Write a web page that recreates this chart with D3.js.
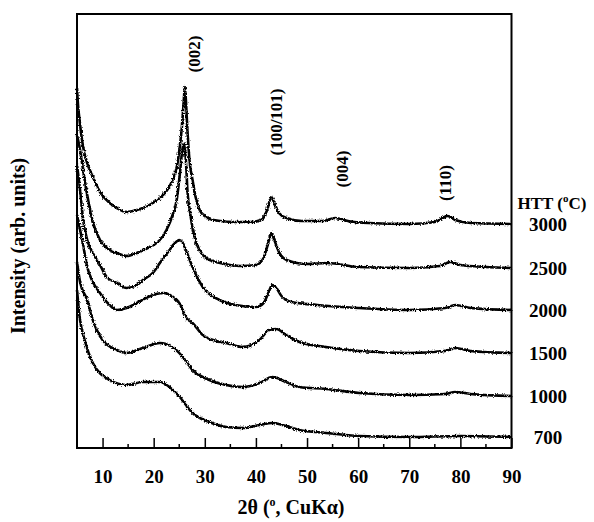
<!DOCTYPE html>
<html>
<head>
<meta charset="utf-8">
<script src="https://cdn.jsdelivr.net/npm/d3@7"></script>
<style>
  body { margin: 0; background: #fff; }
  text { font-family: "Liberation Serif", "Times New Roman", serif; font-weight: bold; fill: #000; }
</style>
</head>
<body>
<div id="chart"></div>
<script>
// 2-theta positions (deg) and intensities (arb. units)
const HTT = ["3000", "2500", "2000", "1500", "1000", "700"];

const XRD_3000 = [[5.0,360],[5.2,343],[5.5,328],[6.2,301],[7.0,285],[8.1,271],[9.5,256],[11.4,245],[12.8,240],[14.7,236],[16.7,238],[17.9,240],[19.5,244],[21.2,250],[22.5,257],[23.7,268],[24.6,283],[25.1,301],[25.5,320],[25.8,341],[26.1,361],[26.3,348],[26.6,318],[27.0,288],[27.6,268],[28.2,251],[29.0,238],[30.0,232],[31.0,229],[33.0,227],[36.0,226],[39.0,226],[41.0,228],[42.2,238],[43.0,251],[43.6,245],[44.5,235],[46.0,230],[49.0,227],[53.0,227],[55.5,230],[58.0,227],[62.0,225],[70.0,224],[75.0,226],[77.5,232],[79.0,228],[82.0,225],[90.0,224]];
const XRD_2500 = [[5.0,313],[5.6,298],[6.2,278],[7.0,253],[8.1,226],[9.5,208],[11.4,198],[12.8,195],[14.7,192],[16.7,195],[18.0,198],[20.0,203],[21.2,208],[22.5,218],[23.7,233],[24.5,248],[25.1,273],[25.6,298],[25.9,305],[26.3,288],[26.6,258],[27.2,233],[27.6,220],[28.5,203],[29.6,193],[31.0,188],[33.0,185],[37.0,182],[40.0,183],[41.5,190],[42.3,203],[43.0,215],[43.6,208],[44.5,196],[46.0,188],[50.0,184],[54.0,185],[60.0,181],[70.0,180],[76.0,182],[78.0,186],[80.0,183],[85.0,181],[90.0,180]];
const XRD_2000 = [[5.0,283],[5.6,258],[6.2,228],[7.0,208],[8.1,195],[9.5,183],[10.8,171],[12.8,165],[14.7,160],[16.7,163],[17.9,168],[20.0,176],[21.2,185],[23.1,198],[24.0,204],[25.0,208],[25.6,206],[26.3,198],[27.6,181],[29.6,161],[32.9,148],[36.0,143],[40.0,141],[41.5,145],[42.5,156],[43.2,163],[44.0,160],[45.0,152],[47.0,146],[52.0,143],[60.0,140],[70.0,138],[77.0,140],[79.0,143],[82.0,140],[90.0,138]];
const XRD_1500 = [[5.0,233],[6.2,203],[7.0,181],[8.1,166],[9.5,155],[11.0,145],[12.8,138],[14.7,140],[16.7,145],[18.5,150],[20.5,154],[22.0,155],[23.5,152],[25.0,145],[26.4,130],[27.6,125],[29.6,113],[32.3,107],[34.2,105],[37.4,101],[40.7,108],[42.6,118],[44.0,119],[45.9,113],[48.5,106],[53.7,101],[60.2,97],[70.0,95],[77.0,97],[79.0,100],[82.0,97],[90.0,95]];
const XRD_1000 = [[5.0,186],[5.6,166],[7.0,148],[8.1,128],[10.0,108],[12.8,98],[14.7,95],[17.9,100],[21.2,105],[23.7,101],[25.7,91],[27.6,78],[30.9,68],[34.2,63],[37.4,61],[40.7,65],[43.2,71],[45.9,66],[48.5,61],[53.7,59],[60.2,55],[70.0,53],[77.0,54],[79.0,56],[82.0,54],[90.0,52]];
const XRD_700 = [[5.0,158],[5.6,128],[6.5,108],[8.1,85],[11.4,68],[14.7,63],[17.9,66],[21.2,66],[23.1,61],[25.1,51],[27.6,35],[30.9,26],[34.2,21],[37.4,20],[40.7,23],[43.2,25],[45.2,23],[48.5,18],[53.7,15],[60.2,12],[70.0,11],[80.0,12],[90.0,11]];
const SERIES = [XRD_3000, XRD_2500, XRD_2000, XRD_1500, XRD_1000, XRD_700];

const X_TICKS = [10, 20, 30, 40, 50, 60, 70, 80, 90];
const X_MINOR = [15, 25, 35, 45, 55, 65, 75, 85];
const PEAKS = [["(002)", 28.0], ["(100/101)", 44.0], ["(004)", 57.0], ["(110)", 77.0]];
const PEAK_H = [394, 326, 279, 265];

const WIDTH = 594;
const HEIGHT = 522;
const MARGIN = { TOP: 14, RIGHT: 82, BOTTOM: 74, LEFT: 77 };

const SVG = d3.select("#chart").append("svg")
  .attr("width", WIDTH)
  .attr("height", HEIGHT);

const X_SCALE = d3.scaleLinear().domain([5, 90]).range([MARGIN.LEFT, WIDTH - MARGIN.RIGHT - 0.5]);
const Y_SCALE = d3.scaleLinear().domain([0, 434]).range([HEIGHT - MARGIN.BOTTOM, MARGIN.TOP]);

// grain filter to mimic the noisy traces
const DEFS = SVG.append("defs");
const NOISE = DEFS.append("filter").attr("id", "noise").attr("x", "-2%").attr("y", "-5%").attr("width", "104%").attr("height", "110%");
NOISE.append("feTurbulence").attr("type", "fractalNoise").attr("baseFrequency", "0.9 0.6").attr("numOctaves", 2).attr("seed", 3).attr("result", "t");
NOISE.append("feDisplacementMap").attr("in", "SourceGraphic").attr("in2", "t").attr("scale", 3.5).attr("xChannelSelector", "R").attr("yChannelSelector", "G");

const LINE = d3.line()
  .x((d) => X_SCALE(d[0]))
  .y((d) => Y_SCALE(d[1]))
  .curve(d3.curveMonotoneX);

SVG.append("g").attr("filter", "url(#noise)")
  .selectAll(".trace")
  .data(SERIES)
  .enter()
  .append("path")
  .attr("class", "trace")
  .attr("d", LINE)
  .attr("fill", "none")
  .attr("stroke", "#000")
  .attr("stroke-width", 2.6)
  .attr("stroke-linejoin", "round");

// frame
const X0 = X_SCALE.range()[0], X1 = X_SCALE.range()[1];
const Y0 = Y_SCALE.range()[0], Y1 = Y_SCALE.range()[1];
SVG.append("rect")
  .attr("x", X0).attr("y", Y1)
  .attr("width", X1 - X0).attr("height", Y0 - Y1)
  .attr("fill", "none").attr("stroke", "#000").attr("stroke-width", 2);

const X_AXIS = d3.axisBottom(X_SCALE)
  .tickValues(X_TICKS)
  .tickSize(-10)
  .tickSizeOuter(0)
  .tickPadding(22);

const AXIS_G = SVG.append("g")
  .attr("transform", "translate(0," + Y0 + ")")
  .call(X_AXIS);
AXIS_G.select(".domain").remove();
AXIS_G.selectAll("line").attr("stroke-width", 1.5);
AXIS_G.selectAll("text")
  .style("font-family", "'Liberation Serif', serif")
  .style("font-weight", "bold")
  .style("font-size", "19px");

SVG.append("g")
  .selectAll("line")
  .data(X_MINOR)
  .enter()
  .append("line")
  .attr("x1", (d) => X_SCALE(d)).attr("x2", (d) => X_SCALE(d))
  .attr("y1", Y0).attr("y2", Y0 - 4)
  .attr("stroke", "#000").attr("stroke-width", 1.5);

// axis titles
const X_TITLE = SVG.append("text")
  .attr("x", 291)
  .attr("y", 514)
  .attr("text-anchor", "middle")
  .style("font-size", "20px");
X_TITLE.append("tspan").text("2θ (");
X_TITLE.append("tspan").attr("dy", -8).style("font-size", "12px").text("o");
X_TITLE.append("tspan").attr("dy", 8).text(", CuKα)");

SVG.append("text")
  .attr("transform", "translate(25,246) rotate(-90)")
  .attr("text-anchor", "middle")
  .style("font-size", "20px")
  .text("Intensity (arb. units)");

// HTT labels at the right end of each trace
const HTT_TITLE = SVG.append("text")
  .attr("x", 552)
  .attr("y", 209)
  .attr("text-anchor", "middle")
  .style("font-size", "17px");
HTT_TITLE.append("tspan").text("HTT (");
HTT_TITLE.append("tspan").attr("dy", -7).style("font-size", "11px").text("o");
HTT_TITLE.append("tspan").attr("dy", 7).text("C)");

SVG.append("g")
  .selectAll("text")
  .data(HTT)
  .enter()
  .append("text")
  .attr("x", 548)
  .attr("y", (d, i) => Y_SCALE(SERIES[i][SERIES[i].length - 1][1]) + 7)
  .attr("text-anchor", "middle")
  .style("font-size", "19px")
  .text((d) => d);

// reflection labels
SVG.append("g")
  .selectAll("text")
  .data(PEAKS)
  .enter()
  .append("text")
  .attr("transform", (d, i) => "translate(" + X_SCALE(d[1]) + "," + Y_SCALE(PEAK_H[i]) + ") rotate(-90)")
  .attr("text-anchor", "middle")
  .attr("dominant-baseline", "central")
  .style("font-size", "17px")
  .text((d) => d[0]);
</script>
</body>
</html>
